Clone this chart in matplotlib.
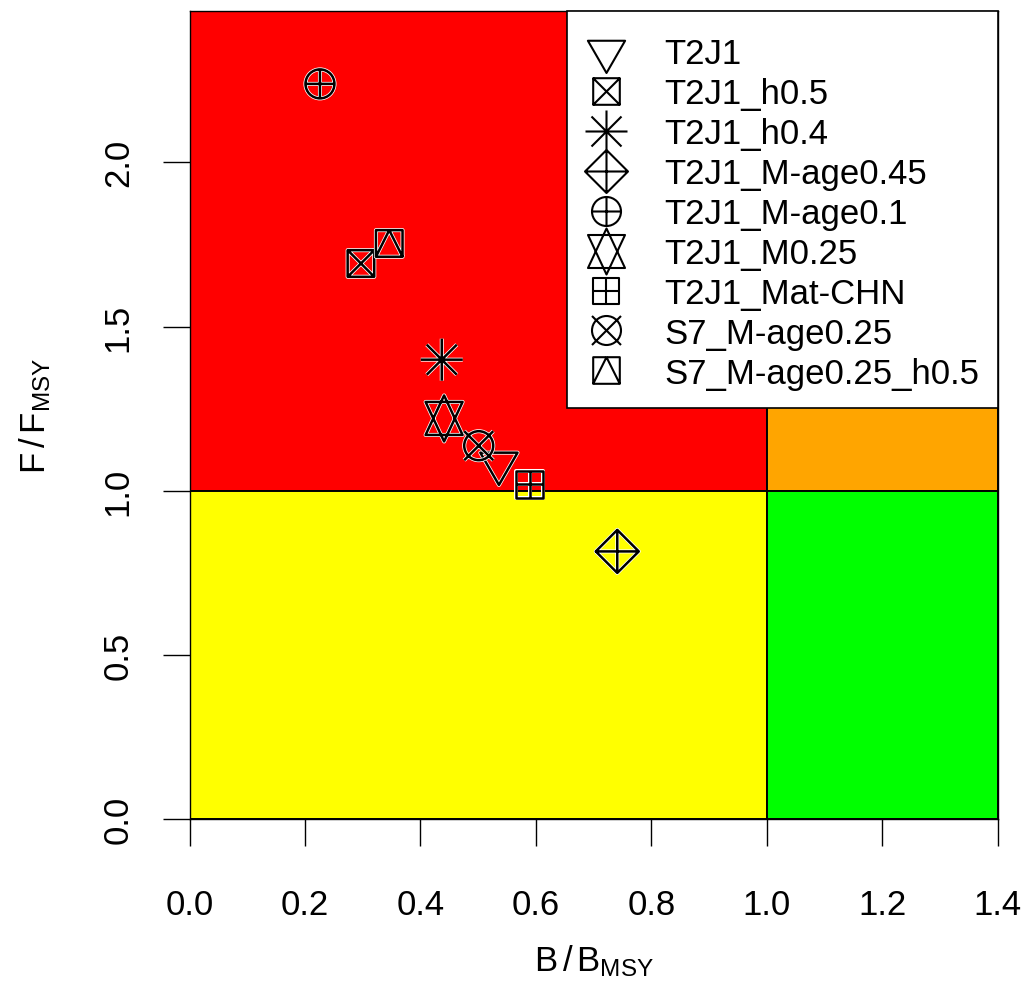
import numpy as np
import matplotlib
matplotlib.use("Agg")
import matplotlib.pyplot as plt
from matplotlib.path import Path
from matplotlib.patches import Rectangle
from matplotlib.lines import Line2D
import matplotlib.patheffects as pe

plt.rcParams['font.family'] = ['Liberation Sans', 'DejaVu Sans']
plt.rcParams['mathtext.fontset'] = 'custom'
plt.rcParams['mathtext.rm'] = 'Liberation Sans'
plt.rcParams['mathtext.it'] = 'Liberation Sans:italic'

# scenario results (B/Bmsy, F/Fmsy)
scenarios = ["T2J1", "T2J1_h0.5", "T2J1_h0.4", "T2J1_M-age0.45", "T2J1_M-age0.1",
             "T2J1_M0.25", "T2J1_Mat-CHN", "S7_M-age0.25", "S7_M-age0.25_h0.5"]
b_ratio = [0.536, 0.297, 0.437, 0.741, 0.226, 0.441, 0.589, 0.501, 0.346]
f_ratio = [1.083, 1.692, 1.399, 0.815, 2.239, 1.220, 1.019, 1.137, 1.753]

x_ticks = [0.0, 0.2, 0.4, 0.6, 0.8, 1.0, 1.2, 1.4]
y_ticks = [0.0, 0.5, 1.0, 1.5, 2.0]
x_max, y_max = 1.4, 2.461

DPI = 100
PX_PER_PT = DPI / 72.0
FS = 25


def seg(*pairs):
    # open line pieces: list of ((x0,y0),(x1,y1))
    verts, codes = [], []
    for a, b in pairs:
        verts += [a, b]
        codes += [Path.MOVETO, Path.LINETO]
    return Path(verts, codes)


def poly(pts):
    return Path(list(pts) + [pts[0]], [Path.MOVETO] + [Path.LINETO] * (len(pts) - 1) + [Path.CLOSEPOLY])


def circ(r):
    return Path.circle((0, 0), r)


def sq(s):
    return poly([(-s, -s), (s, -s), (s, s), (-s, s)])


# R style pch symbols, sizes in pixels
S, C = 13.3, 14.5
tri_r, tri_x = 21.5, 18.6
pch = {
    6: poly([(-tri_x, tri_r / 2), (tri_x, tri_r / 2), (0, -tri_r)]),
    7: Path.make_compound_path(sq(S), seg(((-S, -S), (S, S)), ((-S, S), (S, -S)))),
    8: seg(((-21, 0), (21, 0)), ((0, -21), (0, 21)), ((-15, -15), (15, 15)), ((-15, 15), (15, -15))),
    9: Path.make_compound_path(poly([(0, -21.5), (21.5, 0), (0, 21.5), (-21.5, 0)]),
                               seg(((-21.5, 0), (21.5, 0)), ((0, -21.5), (0, 21.5)))),
    10: Path.make_compound_path(circ(C), seg(((-C, 0), (C, 0)), ((0, -C), (0, C)))),
    11: Path.make_compound_path(poly([(0, 23), (18.5, -16.5), (-18.5, -16.5)]),
                                poly([(0, -23), (18.5, 16.5), (-18.5, 16.5)])),
    12: Path.make_compound_path(sq(S), seg(((-S, 0), (S, 0)), ((0, -S), (0, S)))),
    13: Path.make_compound_path(circ(C), seg(((-C, -C), (C, C)), ((-C, C), (C, -C)))),
    14: Path.make_compound_path(sq(S), seg(((-S, -S), (0, S)), ((0, S), (S, -S)))),
}
symbols = [6, 7, 8, 9, 10, 11, 12, 13, 14]


def msize(p):
    return 2 * np.max(np.abs(p.vertices)) / PX_PER_PT


fig = plt.figure(figsize=(10.27, 9.95), dpi=DPI)
ax = fig.add_axes([189.5 / 1027, 175 / 995, 808.2 / 1027, 808 / 995])

ax.set_xlim(0, x_max)
ax.set_ylim(0, y_max)

# Kobe quadrants
kw = dict(edgecolor='black', linewidth=1.4, zorder=1)
ax.add_patch(Rectangle((0, 1), 1, y_max - 1, facecolor='#FF0000', **kw))
ax.add_patch(Rectangle((1, 1), x_max - 1, y_max - 1, facecolor='#FFA500', **kw))
ax.add_patch(Rectangle((0, 0), 1, 1, facecolor='#FFFF00', **kw))
ax.add_patch(Rectangle((1, 0), x_max - 1, 1, facecolor='#00FF00', **kw))

handles = []
for name, bx, fy, p in zip(scenarios, b_ratio, f_ratio, symbols):
    path = pch[p]
    ax.plot([bx], [fy], ls='none', marker=path, ms=msize(path), mfc='none', mec='black',
            mew=1.8, zorder=3,
            path_effects=[pe.withStroke(linewidth=2.9, foreground='white')])
    handles.append(Line2D([], [], ls='none', marker=path, ms=msize(path), mfc='none',
                          mec='black', mew=1.5))

# tiny blank title gives the extra top margin R leaves in its legend box
leg = ax.legend(handles, scenarios, loc='upper right', bbox_to_anchor=(1.0, 1.0),
                borderaxespad=0, fontsize=FS, frameon=True, fancybox=False,
                handlelength=1.2, handletextpad=1.1, borderpad=0.52, labelspacing=0.2,
                title=' ', title_fontsize=1)
leg.get_frame().set_edgecolor('black')
leg.get_frame().set_linewidth(1.2)
leg.get_frame().set_alpha(None)
leg.set_zorder(5)

for s in ax.spines.values():
    s.set_linewidth(1.0)
    s.set_zorder(2)

ax.set_xticks(x_ticks)
ax.set_xticklabels([f"{v:.1f}" for v in x_ticks], fontsize=FS)
ax.set_yticks(y_ticks)
ax.set_yticklabels([f"{v:.1f}" for v in y_ticks], fontsize=FS, rotation=90, va='center')
ax.tick_params(axis='x', length=19.4, width=1.0, pad=30)
ax.tick_params(axis='y', length=19.4, width=1.0, pad=20)

ax.set_xlabel(r'$\mathrm{B}\,/\,\mathrm{B}_{\mathrm{MSY}}$', fontsize=FS)
ax.set_ylabel(r'$\mathrm{F}\,/\,\mathrm{F}_{\mathrm{MSY}}$', fontsize=FS)
ax.xaxis.set_label_coords(0.5, -0.152)
ax.yaxis.set_label_coords(-0.169, 0.5)

fig.savefig("out.png", dpi=DPI)
